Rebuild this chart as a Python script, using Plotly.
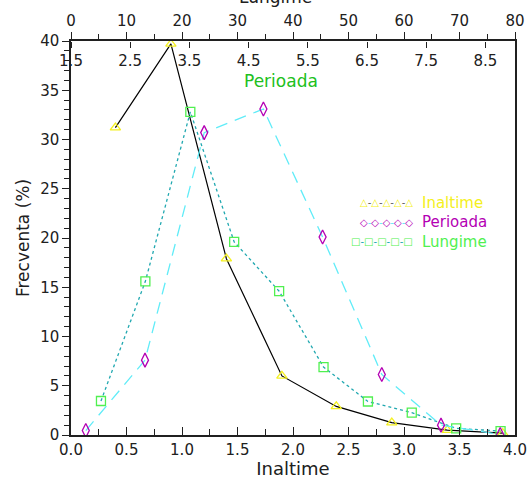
import plotly.graph_objects as go

# Inaltime (bottom axis, 0 - 4)
inaltime_x = [0.40, 0.90, 1.40, 1.90, 2.39, 2.89, 3.39, 3.89]
inaltime_y = [31.2, 39.7, 17.9, 6.0, 2.9, 1.25, 0.5, 0.2]

# Perioada (inner top axis, 1.5 - 9.0)
perioada_x = [1.75, 2.75, 3.75, 4.75, 5.75, 6.75, 7.75, 8.75]
perioada_y = [0.45, 7.6, 30.7, 33.1, 20.1, 6.15, 1.0, 0.05]

# Lungime (outer top axis, 0 - 80)
lungime_x = [5.4, 13.4, 21.5, 29.4, 37.5, 45.5, 53.5, 61.4, 69.4, 77.4]
lungime_y = [3.45, 15.6, 32.8, 19.6, 14.6, 6.9, 3.4, 2.27, 0.68, 0.4]

perioada_ticks = [1.5, 2.5, 3.5, 4.5, 5.5, 6.5, 7.5, 8.5]

FONT = "DejaVu Sans"
YELLOW = "#f4f020"
MAGENTA = "#b400b4"
GREEN = "#50f050"
CYAN = "#60ecf8"
TEAL = "#20a8b0"

fig = go.Figure()

fig.add_trace(go.Scatter(
    x=lungime_x, y=lungime_y, xaxis="x2", mode="lines+markers",
    line=dict(color=TEAL, width=1.3, dash="3px,3px"),
    marker=dict(symbol="square-open", size=9, color=GREEN, line=dict(width=1.3)),
))
fig.add_trace(go.Scatter(
    x=perioada_x, y=perioada_y, xaxis="x3", mode="lines+markers",
    line=dict(color=CYAN, width=1.3, dash="12px,8px"),
    marker=dict(symbol="diamond-tall-open", size=10, color=MAGENTA, line=dict(width=1.3)),
))
fig.add_trace(go.Scatter(
    x=inaltime_x, y=inaltime_y, xaxis="x", mode="lines+markers",
    line=dict(color="black", width=1.2),
    marker=dict(symbol="triangle-up-open", size=9, color=YELLOW, line=dict(width=1.3)),
))

tickfont = dict(family=FONT, size=15, color="#202020")

fig.update_layout(
    width=528, height=479,
    margin=dict(l=71, r=13, t=41, b=44),
    paper_bgcolor="white", plot_bgcolor="white",
    showlegend=False,
    font=dict(family=FONT),
    xaxis=dict(
        range=[0, 4], dtick=0.5, tickformat=".1f", ticks="inside", ticklen=8,
        tickcolor="#202020", minor=dict(dtick=0.25, ticks="inside", ticklen=6, tickcolor="#202020"),
        showline=True, linecolor="#202020", linewidth=1.5, showgrid=False, zeroline=False,
        tickfont=tickfont, automargin=False,
        title=dict(text="Inaltime", font=dict(family=FONT, size=18, color="#202020"), standoff=2),
    ),
    xaxis2=dict(
        range=[0, 80], dtick=10, overlaying="x", side="top", anchor="y",
        ticks="outside", ticklen=7, tickcolor="#202020",
        minor=dict(dtick=5, ticks="outside", ticklen=5, tickcolor="#202020"),
        showline=True, linecolor="#202020", linewidth=1.5, showgrid=False, zeroline=False,
        tickfont=tickfont, automargin=False,
    ),
    xaxis3=dict(
        range=[1.5, 9.0], tickvals=perioada_ticks, tickformat=".1f", overlaying="x",
        anchor="free", position=1.0, side="bottom", ticks="outside", ticklen=6,
        tickcolor="#202020", showline=False, showgrid=False, zeroline=False,
        tickfont=tickfont, automargin=False,
    ),
    yaxis=dict(
        range=[0, 40], dtick=5, ticks="outside", ticklen=7, tickcolor="#202020",
        minor=dict(dtick=1, ticks="outside", ticklen=5, tickcolor="#202020"),
        showline=True, linecolor="#202020", linewidth=1.5, mirror=True,
        showgrid=False, zeroline=False, tickfont=tickfont, automargin=False,
        title=dict(text="Frecventa (%)", font=dict(family=FONT, size=17, color="#202020"), standoff=6),
    ),
)

# axis titles for the top axes (Lungime sits mostly above the page edge)
fig.add_annotation(text="Perioada", xref="paper", yref="paper", x=0.473, y=0.93,
                   showarrow=False, font=dict(family=FONT, size=17, color="#20c020"))
fig.add_annotation(text="Lungime", xref="paper", yref="paper", x=0.46, y=1.081,
                   yanchor="bottom", showarrow=False,
                   font=dict(family=FONT, size=17, color="#202020"))


# legend drawn as text rows
def symbols(sym, sym_color, line_color):
    part = "<span style='color:%s'>%s</span>" % (sym_color, sym)
    sep = "<span style='color:%s'>-</span>" % line_color
    return sep.join([part] * 5)


legend_rows = [
    ("Inaltime", "△", YELLOW, "#606060", YELLOW, 0.59),
    ("Perioada", "◇", MAGENTA, CYAN, MAGENTA, 0.54),
    ("Lungime", "□", GREEN, TEAL, GREEN, 0.49),
]
for label, sym, scol, lcol, tcol, ypos in legend_rows:
    fig.add_annotation(text=symbols(sym, scol, lcol), xref="paper", yref="paper",
                       x=0.775, y=ypos, xanchor="right", showarrow=False,
                       font=dict(family=FONT, size=10))
    fig.add_annotation(text=label, xref="paper", yref="paper", x=0.785, y=ypos,
                       xanchor="left", showarrow=False,
                       font=dict(family=FONT, size=15, color=tcol))

# drop the browser's default body margin so the figure fills the window
fig.write_html("out.html", config={"displayModeBar": False},
               post_script="document.body.style.margin = '0';")
